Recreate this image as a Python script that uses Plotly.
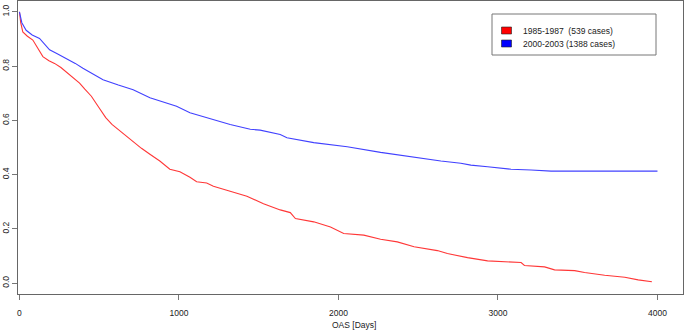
import plotly.graph_objects as go

# ---- data ----
series_names = ["1985-1987\u00a0\u00a0(539 cases)", "2000-2003 (1388 cases)"]

red_days = [0, 8, 21, 50, 84, 120, 147, 185, 220, 260, 304, 340, 377, 410, 451, 495, 541, 580, 618, 665,
            713, 765, 818, 880, 943, 1006, 1069, 1111, 1174, 1216, 1321, 1426, 1530, 1635, 1698, 1730,
            1845, 1950, 2033, 2159, 2264, 2369, 2474, 2568, 2620, 2683, 2809, 2935, 3145, 3166, 3292,
            3355, 3481, 3543, 3669, 3795, 3879, 3965]
red_surv = [1.0, 0.96, 0.926, 0.91, 0.896, 0.86, 0.835, 0.82, 0.81, 0.795, 0.774, 0.755, 0.737, 0.715,
            0.689, 0.65, 0.61, 0.585, 0.567, 0.545, 0.52, 0.497, 0.475, 0.45, 0.42, 0.411, 0.39, 0.374,
            0.369, 0.357, 0.339, 0.32, 0.293, 0.27, 0.26, 0.238, 0.226, 0.207, 0.183, 0.177, 0.162,
            0.152, 0.134, 0.125, 0.12, 0.109, 0.094, 0.082, 0.076, 0.065, 0.06, 0.049, 0.046, 0.039,
            0.029, 0.022, 0.012, 0.005]

blue_days = [0, 15, 42, 80, 126, 160, 189, 240, 294, 350, 398, 460, 524, 620, 713, 818, 900, 985, 1069,
             1216, 1321, 1447, 1509, 1635, 1677, 1845, 2055, 2264, 2474, 2642, 2767, 2830, 2935, 3082,
             3208, 3333, 3564, 4000]
blue_surv = [1.0, 0.96, 0.932, 0.915, 0.902, 0.88, 0.86, 0.845, 0.829, 0.81, 0.792, 0.772, 0.75, 0.73,
             0.713, 0.683, 0.668, 0.652, 0.628, 0.603, 0.585, 0.567, 0.564, 0.548, 0.536, 0.518, 0.503,
             0.482, 0.463, 0.45, 0.442, 0.435, 0.429, 0.42, 0.417, 0.413, 0.413, 0.413]

x_ticks = [0, 1000, 2000, 3000, 4000]
y_ticks = [0.0, 0.2, 0.4, 0.6, 0.8, 1.0]
x_title = "OAS [Days]"
line_colors = ["rgb(255,55,55)", "rgb(65,65,255)"]
swatch_colors = ["rgb(255,0,0)", "rgb(0,0,255)"]

# ---- layout geometry ----
W, H = 685, 330
L, R, T, B = 18, 683, 1, 294
FONT = "Liberation Sans, Arial, sans-serif"
FS = 8.5


def px_x(p):
    return (p - L) / (R - L)


def px_y(p):
    return 1 - (p - T) / (B - T)


fig = go.Figure()
for days, surv, name, col in [(red_days, red_surv, series_names[0], line_colors[0]),
                               (blue_days, blue_surv, series_names[1], line_colors[1])]:
    fig.add_trace(go.Scatter(x=days, y=surv, mode="lines", name=name,
                             line=dict(color=col, width=1.1), showlegend=False))

# manual legend (box, swatches, labels)
shapes = [dict(type="rect", xref="paper", yref="paper",
               x0=px_x(492), x1=px_x(656), y0=px_y(55), y1=px_y(14),
               line=dict(color="#777", width=1), fillcolor="white")]
annotations = []
for i, (name, col) in enumerate(zip(series_names, swatch_colors)):
    yc = 30.5 + 13 * i
    shapes.append(dict(type="rect", xref="paper", yref="paper",
                       x0=px_x(501.5), x1=px_x(511.5), y0=px_y(yc + 3.5), y1=px_y(yc - 3.5),
                       line=dict(color="#222", width=0.6), fillcolor=col))
    annotations.append(dict(xref="paper", yref="paper", x=px_x(520.5), y=px_y(yc),
                            xanchor="left", yanchor="middle", text=name, showarrow=False,
                            font=dict(family=FONT, size=FS, color="#222")))

# x-axis title
annotations.append(dict(xref="paper", yref="paper", x=px_x(354), y=px_y(325),
                        xanchor="center", yanchor="middle", text=x_title, showarrow=False,
                        font=dict(family=FONT, size=FS, color="#222")))

axis_common = dict(showgrid=False, zeroline=False, showline=True, linecolor="#666", linewidth=1,
                   mirror=True, ticks="outside", ticklen=5, tickcolor="#777", tickwidth=1,
                   tickfont=dict(family=FONT, size=FS, color="#222"), automargin=False)

fig.update_layout(
    width=W, height=H,
    margin=dict(l=L, r=W - R, t=T, b=H - B, pad=0),
    paper_bgcolor="white", plot_bgcolor="white",
    showlegend=False,
    shapes=shapes, annotations=annotations,
    xaxis=dict(range=[-9, 4160], tickvals=x_ticks, ticktext=[str(v) for v in x_ticks],
               ticklabelstandoff=6, **axis_common),
    yaxis=dict(range=[-0.04, 1.04], tickvals=y_ticks, ticktext=[f"{v:.1f}" for v in y_ticks],
               tickangle=-90, **axis_common),
)

fig.write_html("out.html", config={"displayModeBar": False},
               post_script="document.body.style.margin='0';")
